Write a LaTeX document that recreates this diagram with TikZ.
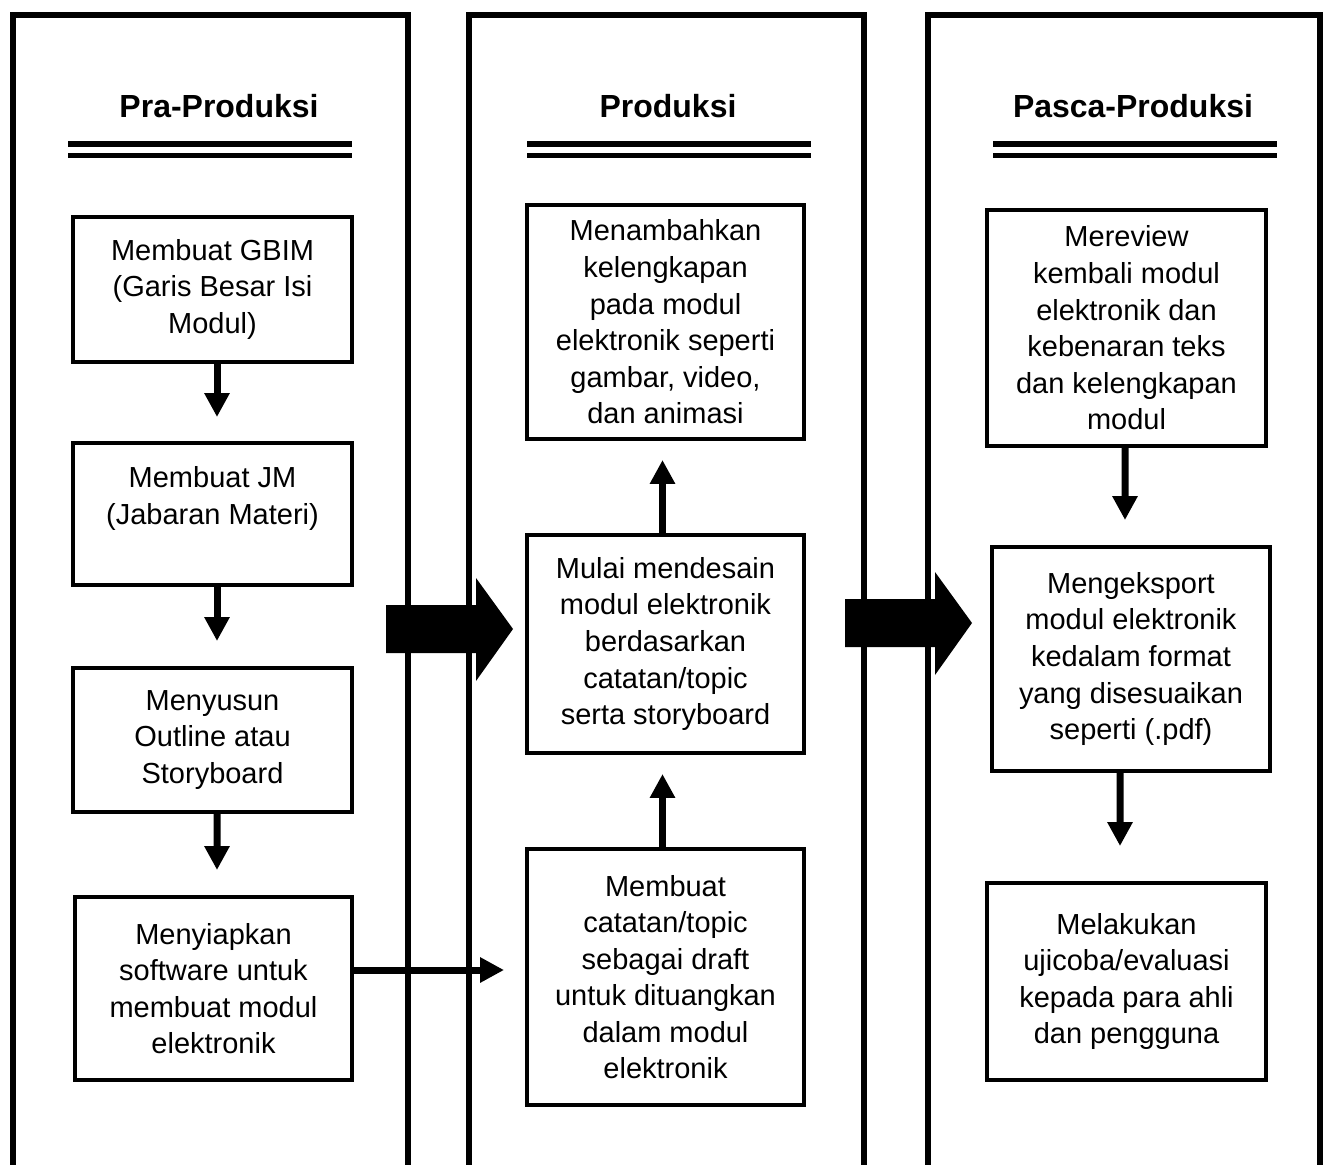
\documentclass[tikz,border=0pt]{standalone}
\usepackage{fontspec}
\setmainfont{Liberation Sans}
\usetikzlibrary{arrows.meta}
\begin{document}
\begin{tikzpicture}[x=0.02cm,y=-0.02cm,
    kolom/.style={line width=0.11cm},
    garis/.style={line width=0.11cm},
    judul/.style={anchor=base,font=\fontsize{18.2}{22}\selectfont\bfseries},
    kotak/.style={draw,line width=0.08cm,align=center,inner sep=0pt,minimum width=5.57cm,font=\fontsize{16.5}{20.8}\selectfont},
    panah/.style={-{Triangle[length=0.48cm,width=0.48cm]},line width=0.14cm},
    besar/.style={fill=black}]
\useasboundingbox (0,0) rectangle (1325,1165);

% kolom
\draw[kolom](13,1165)--(13,15)--(408,15)--(408,1165);
\draw[kolom](469,1165)--(469,15)--(864,15)--(864,1165);
\draw[kolom](928,1165)--(928,15)--(1320,15)--(1320,1165);

\node[judul] (j1) at (219,118) {Pra-Produksi};
\node[judul] (j2) at (668,118) {Produksi};
\node[judul] (j3) at (1133,118) {Pasca-Produksi};
\foreach \a/\b in {68/352, 527/811, 993/1277}{
    \draw[garis](\a,144)--(\b,144);
    \draw[garis](\a,155.5)--(\b,155.5);
}

% pra-produksi
\node[kotak,minimum height=2.9cm] (L1) at (212.5,289.5) {Membuat GBIM\\(Garis Besar Isi\\Modul)};
\node[kotak,minimum height=2.84cm] (L2) at (212.5,514) {Membuat JM\\(Jabaran Materi)\\\mbox{}};
\node[kotak,minimum height=2.88cm] (L3) at (212.5,740) {Menyusun\\Outline atau\\Storyboard};
\node[kotak,minimum height=3.66cm,minimum width=5.54cm] (L4) at (213.5,988.5) {Menyiapkan\\software untuk\\membuat modul\\elektronik};

% produksi
\node[kotak,minimum height=4.68cm,minimum width=5.54cm] (M1) at (665.5,322) {Menambahkan\\kelengkapan\\pada modul\\elektronik seperti\\gambar, video,\\dan animasi};
\node[kotak,minimum height=4.36cm,minimum width=5.54cm] (M2) at (665.5,644) {Mulai mendesain\\modul elektronik\\berdasarkan\\catatan/topic\\serta storyboard};
\node[kotak,minimum height=5.12cm,minimum width=5.54cm] (M3) at (665.5,977) {Membuat\\catatan/topic\\sebagai draft\\untuk dituangkan\\dalam modul\\elektronik};

% pasca-produksi
\node[kotak,minimum height=4.72cm] (R1) at (1126.5,328) {Mereview\\kembali modul\\elektronik dan\\kebenaran teks\\dan kelengkapan\\modul};
\node[kotak,minimum height=4.48cm] (R2) at (1131,659) {Mengeksport\\modul elektronik\\kedalam format\\yang disesuaikan\\seperti (.pdf)};
\node[kotak,minimum height=3.94cm] (R3) at (1126.5,981.5) {Melakukan\\ujicoba/evaluasi\\kepada para ahli\\dan pengguna};

\draw[panah,shorten >=0.48cm]([xshift=0.09cm]L1.south)--([xshift=0.09cm]L2.north);
\draw[panah,shorten >=0.5cm]([xshift=0.09cm]L2.south)--([xshift=0.09cm]L3.north);
\draw[panah,shorten >=0.5cm]([xshift=0.09cm]L3.south)--([xshift=0.07cm]L4.north);
\draw[panah,shorten >=0.38cm]([xshift=-0.06cm]M2.north)--([xshift=-0.06cm]M1.south);
\draw[panah,shorten >=0.38cm]([xshift=-0.06cm]M3.north)--([xshift=-0.06cm]M2.south);
\draw[panah,shorten >=0.5cm]([xshift=-0.03cm]R1.south)--([xshift=-0.12cm]R2.north);
\draw[panah,shorten >=0.7cm]([xshift=-0.22cm]R2.south)--([xshift=-0.13cm]R3.north);
\draw[panah,shorten >=0.42cm]([yshift=0.37cm]L4.east)--([yshift=0.37cm]L4.east -| M3.west);

% panah besar
\fill[besar](386,605)--(476,605)--(476,578)--(513,629)--(476,681)--(476,653)--(386,653)--cycle;
\fill[besar](845,599)--(935,599)--(935,572)--(972,623)--(935,675)--(935,647)--(845,647)--cycle;

\end{tikzpicture}
\end{document}
